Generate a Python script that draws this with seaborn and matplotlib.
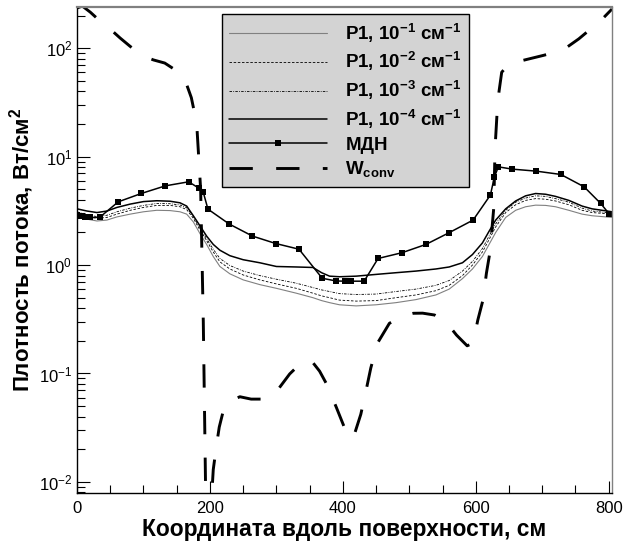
import numpy as np
import pandas as pd
import matplotlib
matplotlib.use("Agg")
import matplotlib.pyplot as plt
from matplotlib.ticker import LogLocator, MultipleLocator, LogFormatterSciNotation
import seaborn as sns

# Coordinate along the surface, cm, for the P1 solutions
x_p1 = [0, 15, 30, 45, 60, 80, 100, 120, 140, 155, 165, 175, 185, 195, 205, 215,
        230, 250, 275, 300, 330, 355, 368, 380, 395, 420, 450, 480, 510, 540, 560,
        580, 595, 610, 620, 630, 645, 660, 675, 690, 705, 720, 740, 760, 775, 790, 805]

# Heat flux density, W/cm^2, P1 approximation for different absorption coefficients
p1_e1 = [2.85, 2.65, 2.55, 2.6, 2.78, 2.95, 3.1, 3.2, 3.18, 3.1, 2.95, 2.5, 1.95, 1.55, 1.2, 0.97,
         0.83, 0.73, 0.66, 0.61, 0.55, 0.5, 0.47, 0.45, 0.43, 0.42, 0.43, 0.45, 0.48, 0.53, 0.6,
         0.75, 0.92, 1.2, 1.55, 2.0, 2.75, 3.2, 3.45, 3.57, 3.55, 3.45, 3.2, 2.95, 2.85, 2.8, 2.75]
p1_e2 = [3.0, 2.8, 2.7, 2.75, 2.95, 3.2, 3.4, 3.55, 3.55, 3.45, 3.25, 2.7, 2.1, 1.68, 1.32, 1.07,
         0.92, 0.81, 0.73, 0.67, 0.61, 0.55, 0.52, 0.5, 0.475, 0.465, 0.47, 0.5, 0.53, 0.58, 0.65,
         0.8, 1.0, 1.32, 1.72, 2.25, 3.05, 3.6, 3.95, 4.1, 4.05, 3.9, 3.6, 3.2, 3.05, 3.0, 2.95]
p1_e3 = [3.1, 2.9, 2.8, 2.88, 3.1, 3.35, 3.55, 3.7, 3.68, 3.58, 3.38, 2.8, 2.2, 1.75, 1.4, 1.15,
         0.99, 0.88, 0.8, 0.74, 0.68, 0.62, 0.59, 0.57, 0.545, 0.535, 0.54, 0.57, 0.6, 0.65, 0.72,
         0.88, 1.08, 1.42, 1.85, 2.4, 3.2, 3.8, 4.15, 4.35, 4.3, 4.1, 3.8, 3.35, 3.15, 3.08, 3.0]
p1_e4 = [3.3, 3.15, 3.05, 3.15, 3.4, 3.65, 3.85, 3.92, 3.88, 3.75, 3.5, 2.85, 2.3, 1.85, 1.55, 1.37,
         1.22, 1.12, 1.05, 0.97, 0.96, 0.95, 0.85, 0.79, 0.78, 0.79, 0.82, 0.85, 0.88, 0.92, 0.96,
         1.05, 1.25, 1.6, 2.05, 2.6, 3.3, 3.9, 4.35, 4.57, 4.5, 4.3, 3.95, 3.5, 3.3, 3.2, 3.1]

# Discrete ordinates method (МДН)
x_mdn = [0, 5, 12, 20, 34, 62, 97, 133, 168, 184, 190, 197, 229, 264, 299, 334, 369, 390,
         403, 413, 432, 453, 489, 525, 560, 596, 622, 628, 634, 655, 691, 728, 763, 788, 801]
y_mdn = [2.89, 2.85, 2.8, 2.75, 2.75, 3.83, 4.58, 5.38, 5.86, 5.09, 4.68, 3.28, 2.39, 1.85,
         1.58, 1.40, 0.755, 0.713, 0.71, 0.71, 0.71, 1.15, 1.30, 1.55, 1.99, 2.60, 4.42, 6.5,
         8.05, 7.67, 7.35, 6.85, 5.27, 3.70, 2.95]

# Convective heat flux
x_conv = [0, 8, 20, 30, 50, 65, 80, 97, 115, 132, 148, 162, 172, 180, 186, 190, 194,
          201, 205, 210, 214, 220, 227, 245, 262, 280, 296, 320, 340, 354, 365, 375, 390,
          403, 410, 417, 427, 435, 442, 452, 470, 490, 506, 520, 538, 555, 571, 587, 596,
          603, 611, 616, 621, 624, 627, 629, 632, 635, 639, 650, 670, 702, 720, 738, 755,
          772, 790, 805]
y_conv = [235, 245, 215, 189, 150, 124, 104, 86, 78, 73, 63, 52, 35, 20.4, 5.0, 0.3, 0.005,
          0.005, 0.013, 0.022, 0.032, 0.045, 0.054, 0.061, 0.058, 0.058, 0.063, 0.099, 0.13,
          0.128, 0.105, 0.081, 0.049, 0.031, 0.025, 0.027, 0.042, 0.07, 0.112, 0.19, 0.29,
          0.34, 0.359, 0.36, 0.346, 0.3, 0.226, 0.18, 0.19, 0.31, 0.48, 0.84, 1.28, 2.03,
          3.34, 12, 25, 40, 60, 72, 77, 86, 92, 103, 122, 149, 185, 230]

labels = [r"P1, 10$^{\mathbf{-1}}$ см$^{\mathbf{-1}}$",
          r"P1, 10$^{\mathbf{-2}}$ см$^{\mathbf{-1}}$",
          r"P1, 10$^{\mathbf{-3}}$ см$^{\mathbf{-1}}$",
          r"P1, 10$^{\mathbf{-4}}$ см$^{\mathbf{-1}}$",
          "МДН",
          r"W$_{\mathbf{conv}}$"]

sns.set_style("ticks")
plt.rcParams["font.family"] = ["Liberation Sans", "DejaVu Sans"]
plt.rcParams["mathtext.fontset"] = "custom"
plt.rcParams["mathtext.rm"] = "Liberation Sans"
plt.rcParams["mathtext.bf"] = "Liberation Sans:bold"
plt.rcParams["mathtext.default"] = "regular"
for key in ("text.color", "axes.labelcolor", "xtick.color", "ytick.color",
            "xtick.labelcolor", "ytick.labelcolor"):
    plt.rcParams[key] = "black"

fig = plt.figure(figsize=(6.35, 5.44), dpi=100)
ax = fig.add_axes([0.1213, 0.0938, 0.8425, 0.8933])

common = dict(ax=ax, estimator=None, sort=False, legend=False)
sns.lineplot(x=x_p1, y=p1_e1, color="#808080", linewidth=0.8, label=labels[0], **common)
sns.lineplot(x=x_p1, y=p1_e2, color="black", linewidth=0.6, linestyle=(0, (3, 2)),
             label=labels[1], **common)
sns.lineplot(x=x_p1, y=p1_e3, color="black", linewidth=0.6, linestyle=(0, (3, 1.5, 1, 1.5)),
             label=labels[2], **common)
sns.lineplot(x=x_p1, y=p1_e4, color="black", linewidth=1.1, label=labels[3], **common)
sns.lineplot(x=x_mdn, y=y_mdn, color="black", linewidth=1.1, marker="s", markersize=4,
             markeredgewidth=0, label=labels[4], **common)
sns.lineplot(x=x_conv, y=y_conv, color="black", linewidth=2.1, linestyle=(0, (8, 8)),
             label=labels[5], **common)

ax.set_yscale("log")
ax.set_xlim(0, 805)
ax.set_ylim(0.0079, 240)

ax.xaxis.set_major_locator(MultipleLocator(200))
ax.xaxis.set_minor_locator(MultipleLocator(50))
ax.yaxis.set_major_locator(LogLocator(base=10))
ax.yaxis.set_minor_locator(LogLocator(base=10, subs=np.arange(2, 10)))
ax.yaxis.set_major_formatter(LogFormatterSciNotation())

ax.tick_params(which="both", direction="in", top=False, right=False, labelsize=12,
               color="black", width=0.8)
ax.tick_params(which="major", length=9)
ax.tick_params(which="minor", length=5.5)
ax.tick_params(axis="x", which="major", pad=6)

for side in ("left", "bottom"):
    ax.spines[side].set_color("black")
    ax.spines[side].set_linewidth(1.0)
ax.spines["top"].set_color("#808080")
ax.spines["top"].set_linewidth(1.6)
ax.spines["right"].set_color("#808080")
ax.spines["right"].set_linewidth(1.0)

ax.set_xlabel("Координата вдоль поверхности, см", fontsize=16.4, fontweight="bold",
              labelpad=1)
ax.set_ylabel(r"Плотность потока, Вт/см$^{\mathbf{2}}$", fontsize=16, fontweight="bold",
              labelpad=2)

leg = ax.legend(loc="upper left", bbox_to_anchor=(0.2705, 0.9856), borderaxespad=0,
                prop={"weight": "bold", "size": 13.5}, handlelength=5.2, handletextpad=1.0,
                labelspacing=0.3, borderpad=0.4, fancybox=False, framealpha=1,
                facecolor="#d3d3d3", edgecolor="black")
leg.get_frame().set_linewidth(1.0)

fig.savefig("out.png", dpi=100)
